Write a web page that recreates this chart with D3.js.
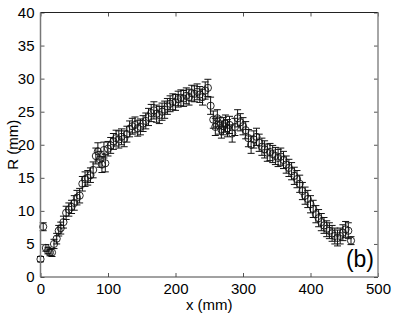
<!DOCTYPE html>
<html>
<head>
<meta charset="utf-8">
<script src="https://cdn.jsdelivr.net/npm/d3@7"></script>
<style>
  body { margin: 0; background: #fff; }
  svg { display: block; }
  text { font-family: "Liberation Sans", Arial, sans-serif; fill: #000; }
</style>
</head>
<body>
<svg></svg>
<script>
/* measured positions along the wall (mm) */
var xs = [0, 4, 8, 11, 14, 17, 20, 24, 27, 30, 34, 38, 42, 46, 50, 54, 58, 62, 66, 70,
  74, 78, 82, 85, 88, 91, 94, 96, 100, 104, 108, 112, 116, 120, 124, 128, 132, 136, 140, 144,
  148, 152, 156, 160, 164, 168, 172, 176, 180, 184, 188, 192, 196, 200, 204, 208, 212, 216, 220, 224,
  228, 232, 236, 240, 244, 248, 252, 256, 259, 262, 265, 268, 271, 274, 277, 280, 284, 288, 292, 296,
  300, 304, 308, 312, 316, 320, 324, 328, 332, 336, 340, 344, 348, 352, 356, 360, 364, 368, 372, 376,
  380, 384, 388, 392, 396, 400, 404, 408, 412, 416, 420, 424, 428, 432, 436, 440, 444, 448, 452, 456, 460];

/* radius R (mm) */
var rs = [2.7, 7.6, 4.4, 4.0, 3.7, 3.7, 5.0, 5.8, 7.0, 7.4, 8.3, 9.7, 10.2, 10.6, 11.2, 12.0, 12.3, 14.1, 14.8, 15.0,
  15.4, 16.2, 18.3, 19.0, 17.8, 17.0, 19.2, 17.2, 19.4, 19.9, 20.5, 21.0, 20.8, 21.2, 20.9, 21.6, 22.4, 22.8, 23.0, 22.5,
  22.7, 23.2, 23.6, 24.2, 24.8, 25.2, 24.7, 24.5, 25.0, 25.3, 25.8, 26.2, 26.5, 26.4, 26.9, 27.1, 27.0, 27.4, 27.2, 27.8,
  27.7, 28.0, 27.6, 27.2, 28.2, 28.6, 25.9, 23.8, 22.7, 24.0, 22.9, 22.3, 22.8, 23.2, 22.5, 23.0, 21.7, 22.7, 24.0, 23.4,
  22.8, 22.2, 21.0, 20.0, 20.8, 21.2, 20.3, 19.7, 19.3, 18.8, 18.9, 18.6, 18.3, 18.0, 18.2, 17.7, 17.0, 16.5, 16.0, 15.3,
  14.8, 14.1, 13.0, 12.3, 11.8, 11.0, 10.3, 9.5, 8.9, 8.3, 7.8, 7.3, 7.0, 6.6, 6.2, 5.9, 6.2, 6.7, 7.2, 7.0, 5.5];

/* error (+/- mm) */
var errs = [0.4, 0.6, 0.5, 0.5, 0.5, 0.6, 0.7, 0.8, 0.8, 0.9, 0.9, 1.0, 1.0, 1.0, 1.1, 1.1, 1.1, 1.1, 1.1, 1.1,
  1.1, 1.2, 1.2, 1.3, 1.2, 1.2, 1.2, 1.3, 1.1, 1.2, 1.2, 1.2, 1.3, 1.2, 1.2, 1.2, 1.2, 1.2, 1.2, 1.2,
  1.2, 1.2, 1.2, 1.3, 1.3, 1.3, 1.3, 1.3, 1.3, 1.3, 1.2, 1.2, 1.2, 1.2, 1.2, 1.2, 1.2, 1.2, 1.2, 1.2,
  1.2, 1.2, 1.2, 1.2, 1.3, 1.3, 1.3, 1.3, 1.3, 1.3, 1.3, 1.3, 1.3, 1.3, 1.3, 1.3, 1.3, 1.3, 1.3, 1.3,
  1.3, 1.3, 1.3, 1.3, 1.3, 1.3, 1.3, 1.3, 1.3, 1.3, 1.3, 1.3, 1.3, 1.3, 1.3, 1.3, 1.3, 1.3, 1.3, 1.3,
  1.3, 1.3, 1.3, 1.3, 1.3, 1.3, 1.3, 1.3, 1.3, 1.3, 1.2, 1.2, 1.2, 1.2, 1.2, 1.2, 1.2, 1.2, 1.2, 1.2, 0.6];

var xTicks = [0, 100, 200, 300, 400, 500];
var yTicks = [0, 5, 10, 15, 20, 25, 30, 35, 40];

var width = 395;
var height = 316;
var plotLeft = 40.5, plotRight = 378, plotTop = 12.5, plotBottom = 277;

var svg = d3.select("svg").attr("width", width).attr("height", height);

var xScale = d3.scaleLinear().domain([0, 500]).range([plotLeft, plotRight]);
var yScale = d3.scaleLinear().domain([0, 40]).range([plotBottom, plotTop]);

var points = xs.map((x, i) => ({ x: x, r: rs[i], e: errs[i] }));

/* error bars */
var bars = svg.append("g").attr("stroke", "#111").attr("stroke-width", 1).attr("fill", "none");
points.forEach((p) => {
  var cx = xScale(p.x);
  var y1 = yScale(p.r + p.e);
  var y2 = yScale(p.r - p.e);
  bars.append("line").attr("x1", cx).attr("x2", cx).attr("y1", y1).attr("y2", y2);
  bars.append("line").attr("x1", cx - 3.5).attr("x2", cx + 3.5).attr("y1", y1).attr("y2", y1);
  bars.append("line").attr("x1", cx - 3.5).attr("x2", cx + 3.5).attr("y1", y2).attr("y2", y2);
});

/* markers */
svg.append("g")
  .selectAll("circle")
  .data(points)
  .enter()
  .append("circle")
  .attr("cx", (d) => xScale(d.x))
  .attr("cy", (d) => yScale(d.r))
  .attr("r", 3.6)
  .attr("fill", "none")
  .attr("stroke", "#111")
  .attr("stroke-width", 0.9);

/* axes: ticks pointing inward, matlab style */
var xAxis = d3.axisBottom(xScale).tickValues(xTicks).tickSizeInner(-4).tickSizeOuter(0).tickPadding(6);
var gx = svg.append("g").attr("transform", "translate(0," + plotBottom + ")").call(xAxis);
gx.select(".domain").remove();
gx.selectAll("text").style("font-size", "15px").attr("font-family", null);
gx.selectAll("line").attr("stroke", "#555");

var gxTop = svg.append("g").attr("transform", "translate(0," + plotTop + ")")
  .call(d3.axisTop(xScale).tickValues(xTicks).tickSizeInner(-4).tickSizeOuter(0).tickFormat(""));
gxTop.select(".domain").remove();
gxTop.selectAll("line").attr("stroke", "#555");

var yAxis = d3.axisLeft(yScale).tickValues(yTicks).tickSizeInner(-4).tickSizeOuter(0).tickPadding(6);
var gy = svg.append("g").attr("transform", "translate(" + plotLeft + ",0)").call(yAxis);
gy.select(".domain").remove();
gy.selectAll("text").style("font-size", "15px").attr("font-family", null);
gy.selectAll("line").attr("stroke", "#555");

var gyRight = svg.append("g").attr("transform", "translate(" + plotRight + ",0)")
  .call(d3.axisRight(yScale).tickValues(yTicks).tickSizeInner(-4).tickSizeOuter(0).tickFormat(""));
gyRight.select(".domain").remove();
gyRight.selectAll("line").attr("stroke", "#555");

/* box */
svg.append("line").attr("x1", plotLeft).attr("x2", plotRight).attr("y1", plotTop).attr("y2", plotTop).attr("stroke", "#222");
svg.append("line").attr("x1", plotLeft).attr("x2", plotRight).attr("y1", plotBottom).attr("y2", plotBottom).attr("stroke", "#444");
svg.append("line").attr("x1", plotLeft).attr("x2", plotLeft).attr("y1", plotTop).attr("y2", plotBottom).attr("stroke", "#777").attr("stroke-width", 1.5);
svg.append("line").attr("x1", plotRight).attr("x2", plotRight).attr("y1", plotTop).attr("y2", plotBottom).attr("stroke", "#888").attr("stroke-width", 1.5);

/* labels */
svg.append("text")
  .attr("x", (plotLeft + plotRight) / 2)
  .attr("y", 310)
  .attr("text-anchor", "middle")
  .style("font-size", "15px")
  .text("x (mm)");

svg.append("text")
  .attr("transform", "translate(18," + (plotTop + plotBottom) / 2 + ") rotate(-90)")
  .attr("text-anchor", "middle")
  .style("font-size", "15px")
  .text("R (mm)");

svg.append("text")
  .attr("x", 374)
  .attr("y", 267)
  .attr("text-anchor", "end")
  .style("font-size", "23px")
  .text("(b)");
</script>
</body>
</html>
